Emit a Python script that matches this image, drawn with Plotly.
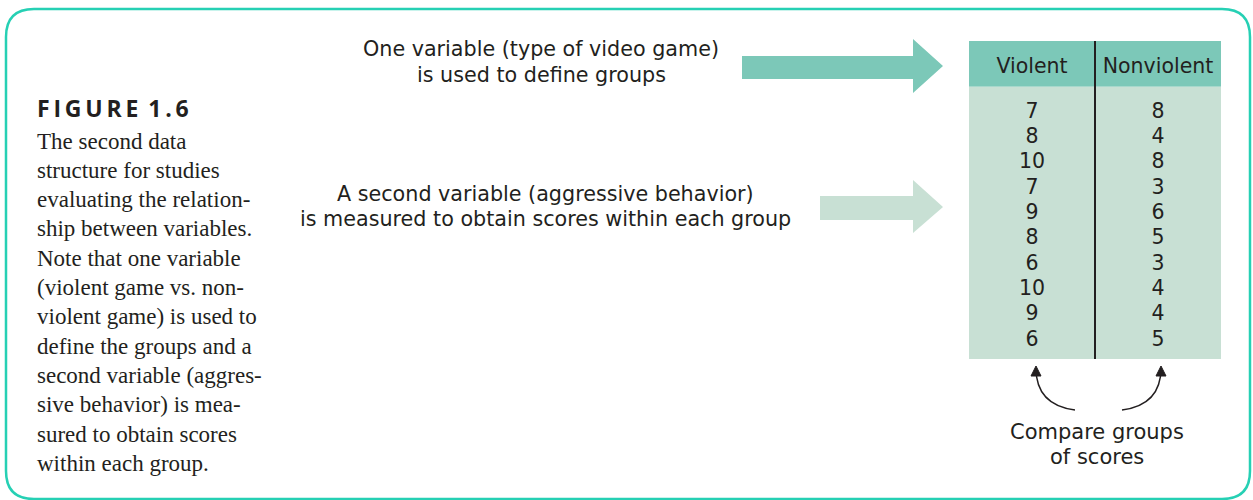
import plotly.graph_objects as go

# ----- data
headers = ['Violent', 'Nonviolent']
violent = [7, 8, 10, 7, 9, 8, 6, 10, 9, 6]
nonviolent = [8, 4, 8, 3, 6, 5, 3, 4, 4, 5]

caption_title = 'F\u2009I\u2009G\u2009U\u2009R\u2009E\u2009 1\u2009.\u20096'
caption_lines = ['The second data', 'structure for studies', 'evaluating the relation-',
                 'ship between variables.', 'Note that one variable', '(violent game vs. non-',
                 'violent game) is used to', 'define the groups and a', 'second variable (aggres-',
                 'sive behavior) is mea-', 'sured to obtain scores', 'within each group.']
label_groups = ['One variable (type of video game)', 'is used to define groups']
label_scores = ['A second variable (aggressive behavior)', 'is measured to obtain scores within each group']
label_compare = ['Compare groups', 'of scores']

W, H = 1253, 500
ink = '#231f20'
teal = '#26d0b4'
head_fill = '#7cc8b8'
body_fill = '#c8e0d4'
sans = 'DejaVu Sans'
serif = 'Liberation Serif'

fig = go.Figure()

n = len(violent)
rows = list(range(n))
fig.add_trace(go.Scatter(x=[headers[0]] * n, y=rows, text=[str(v) for v in violent],
                         mode='text', textfont=dict(family=sans, size=20.5, color=ink),
                         xaxis='x2', yaxis='y2', hoverinfo='skip', showlegend=False))
fig.add_trace(go.Scatter(x=[headers[1]] * n, y=rows, text=[str(v) for v in nonviolent],
                         mode='text', textfont=dict(family=sans, size=20.5, color=ink),
                         xaxis='x2', yaxis='y2', hoverinfo='skip', showlegend=False))
fig.add_trace(go.Scatter(x=headers, y=[-1.76, -1.76], text=headers,
                         mode='text', textfont=dict(family=sans, size=20.5, color=ink),
                         xaxis='x2', yaxis='y2', hoverinfo='skip', showlegend=False))

shapes = []
# outer rounded frame
r = 28
x0, y0, x1, y1 = 6, 9, 1250, 499
shapes.append(dict(type='path', xref='x', yref='y', layer='below',
                   path=f'M {x0+r},{y0} L {x1-r},{y0} Q {x1},{y0} {x1},{y0+r} L {x1},{y1-r} '
                        f'Q {x1},{y1} {x1-r},{y1} L {x0+r},{y1} Q {x0},{y1} {x0},{y1-r} '
                        f'L {x0},{y0+r} Q {x0},{y0} {x0+r},{y0} Z',
                   line=dict(color=teal, width=2.5)))

# table bands (on table axes)
shapes.append(dict(type='rect', xref='x2', yref='y2', x0=-0.5, x1=1.5, y0=-2.82, y1=-1.01,
                   fillcolor=head_fill, line_width=0, layer='below'))
shapes.append(dict(type='rect', xref='x2', yref='y2', x0=-0.5, x1=1.5, y0=-1.01, y1=9.73,
                   fillcolor=body_fill, line_width=0, layer='below'))
shapes.append(dict(type='line', xref='x2', yref='y2', x0=0.5, x1=0.5, y0=-2.82, y1=9.73,
                   line=dict(color=ink, width=2)))

# block arrows
shapes.append(dict(type='path', xref='x', yref='y',
                   path='M 742,56 L 913,56 L 913,39 L 943,66 L 913,93 L 913,79 L 742,79 Z',
                   fillcolor=head_fill, line_width=0))
shapes.append(dict(type='path', xref='x', yref='y',
                   path='M 820,196 L 913,196 L 913,180 L 943,207 L 913,233 L 913,220 L 820,220 Z',
                   fillcolor=body_fill, line_width=0))

# curved compare arrows
shapes.append(dict(type='path', xref='x', yref='y',
                   path='M 1075,410 Q 1036,405 1036,368', line=dict(color=ink, width=1.5)))
shapes.append(dict(type='path', xref='x', yref='y',
                   path='M 1122,410 Q 1161,405 1161,368', line=dict(color=ink, width=1.5)))
shapes.append(dict(type='path', xref='x', yref='y',
                   path='M 1031,376 L 1036,366 L 1041,376 Z', fillcolor=ink, line=dict(color=ink, width=1)))
shapes.append(dict(type='path', xref='x', yref='y',
                   path='M 1156,376 L 1161,366 L 1166,376 Z', fillcolor=ink, line=dict(color=ink, width=1)))

annotations = []
annotations.append(dict(x=35, y=108, text=f'<b>{caption_title}</b>', xanchor='left', yanchor='middle',
                        showarrow=False, font=dict(family='Open Sans', size=23, color=ink)))
for i, line in enumerate(caption_lines):
    annotations.append(dict(x=35, y=141 + i * 29.3, text=line, xanchor='left', yanchor='middle',
                            showarrow=False, font=dict(family=serif, size=23, color=ink)))
for i, line in enumerate(label_groups):
    annotations.append(dict(x=541, y=49 + i * 26, text=line, xanchor='center', yanchor='middle',
                            showarrow=False, font=dict(family=sans, size=20.7, color=ink)))
for i, line in enumerate(label_scores):
    annotations.append(dict(x=545, y=194 + i * 25, text=line, xanchor='center', yanchor='middle',
                            showarrow=False, font=dict(family=sans, size=20.7, color=ink)))
for i, line in enumerate(label_compare):
    annotations.append(dict(x=1097, y=432 + i * 25, text=line, xanchor='center', yanchor='middle',
                            showarrow=False, font=dict(family=sans, size=21, color=ink)))

fig.update_layout(
    width=W, height=H,
    margin=dict(l=0, r=0, t=0, b=0),
    paper_bgcolor='white', plot_bgcolor='white',
    xaxis=dict(range=[0, W], visible=False, domain=[0, 1]),
    yaxis=dict(range=[H, 0], visible=False, domain=[0, 1]),
    xaxis2=dict(type='category', categoryorder='array', categoryarray=headers,
                range=[-0.5, 1.5], domain=[969 / W, 1221 / W], visible=False, anchor='y2'),
    yaxis2=dict(range=[9.73, -2.82], domain=[1 - 359 / H, 1 - 41 / H], visible=False, anchor='x2'),
    shapes=shapes, annotations=annotations,
    showlegend=False,
)

fig.write_html('out.html', config={'displayModeBar': False},
               post_script="document.body.style.margin='0';")
